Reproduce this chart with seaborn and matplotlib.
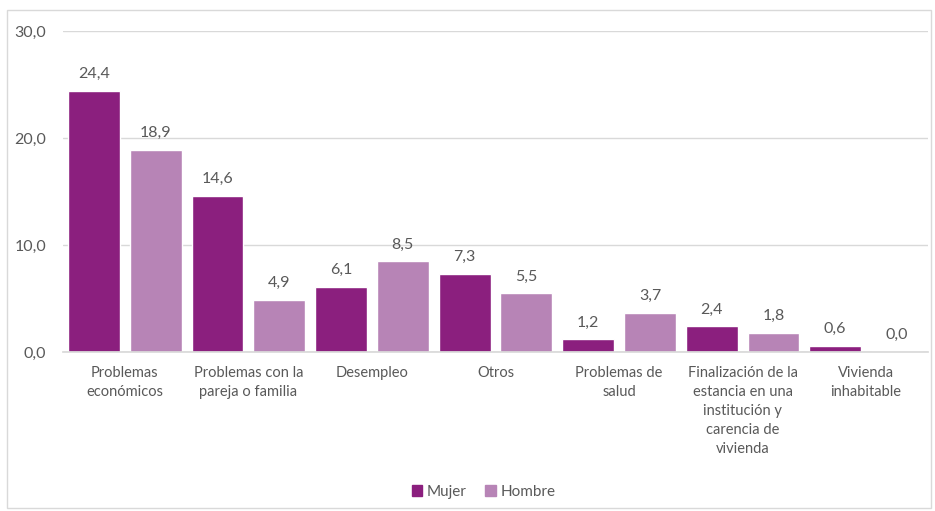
import matplotlib
matplotlib.use("Agg")
import matplotlib.pyplot as plt
import matplotlib.patches as mpatches
import seaborn as sns
import pandas as pd

categorias = [
    "Problemas\neconómicos",
    "Problemas con la\npareja o familia",
    "Desempleo",
    "Otros",
    "Problemas de\nsalud",
    "Finalización de la\nestancia en una\ninstitución y\ncarencia de\nvivienda",
    "Vivienda\ninhabitable",
]
mujer = [24.4, 14.6, 6.1, 7.3, 1.2, 2.4, 0.6]
hombre = [18.9, 4.9, 8.5, 5.5, 3.7, 1.8, 0.0]
series = ["Mujer", "Hombre"]
colores = ["#8B1F7E", "#B784B6"]
y_ticks = [0, 10, 20, 30]

df = pd.DataFrame({
    "categoria": categorias * 2,
    "valor": mujer + hombre,
    "sexo": [series[0]] * len(categorias) + [series[1]] * len(categorias),
})

sns.set_theme(style="white")
plt.rcParams["font.family"] = ["Lato", "DejaVu Sans"]
texto = "#595959"

fig = plt.figure(figsize=(9.35, 5.11), dpi=100)
ax = fig.add_axes([0.0674, 0.311, 0.925, 0.628])

sns.barplot(data=df, x="categoria", y="valor", hue="sexo", order=categorias,
            hue_order=series, palette=colores, width=1.0, gap=0.16,
            saturation=1, ax=ax, legend=False)

ax.set_ylim(0, 30)
ax.set_xlim(-0.5, len(categorias) - 0.5)
ax.set_yticks(y_ticks)
ax.set_yticklabels([f"{v:.1f}".replace(".", ",") for v in y_ticks],
                   color=texto, fontsize=11.5)
ax.tick_params(axis="y", length=0, pad=12)
ax.tick_params(axis="x", length=0, pad=10, labelsize=10.5, labelcolor=texto)
for lbl in ax.get_xticklabels():
    lbl.set_linespacing(1.45)
    lbl.set_verticalalignment("top")
ax.set_xlabel("")
ax.set_ylabel("")
ax.grid(axis="y", color="#D9D9D9", linewidth=1)
ax.set_axisbelow(True)
for s in ["top", "right", "left"]:
    ax.spines[s].set_visible(False)
ax.spines["bottom"].set_color("#D9D9D9")

for cont in ax.containers:
    ax.bar_label(cont, labels=[f"{b.get_height():.1f}".replace(".", ",") for b in cont],
                 padding=7, fontsize=11.5, color=texto)

handles = [mpatches.Patch(color=c, label=s) for s, c in zip(series, colores)]
fig.legend(handles=handles, loc="center", bbox_to_anchor=(0.517, 0.037), ncol=2,
           frameon=False, fontsize=11, handlelength=0.7, handleheight=0.7,
           handletextpad=0.3, columnspacing=1.2, labelcolor=texto)

fig.patches.append(mpatches.Rectangle((0.008, 0.006), 0.988, 0.975,
                                      transform=fig.transFigure, fill=False,
                                      edgecolor="#D9D9D9", linewidth=1))

fig.savefig("out.png", dpi=100, facecolor="white")
